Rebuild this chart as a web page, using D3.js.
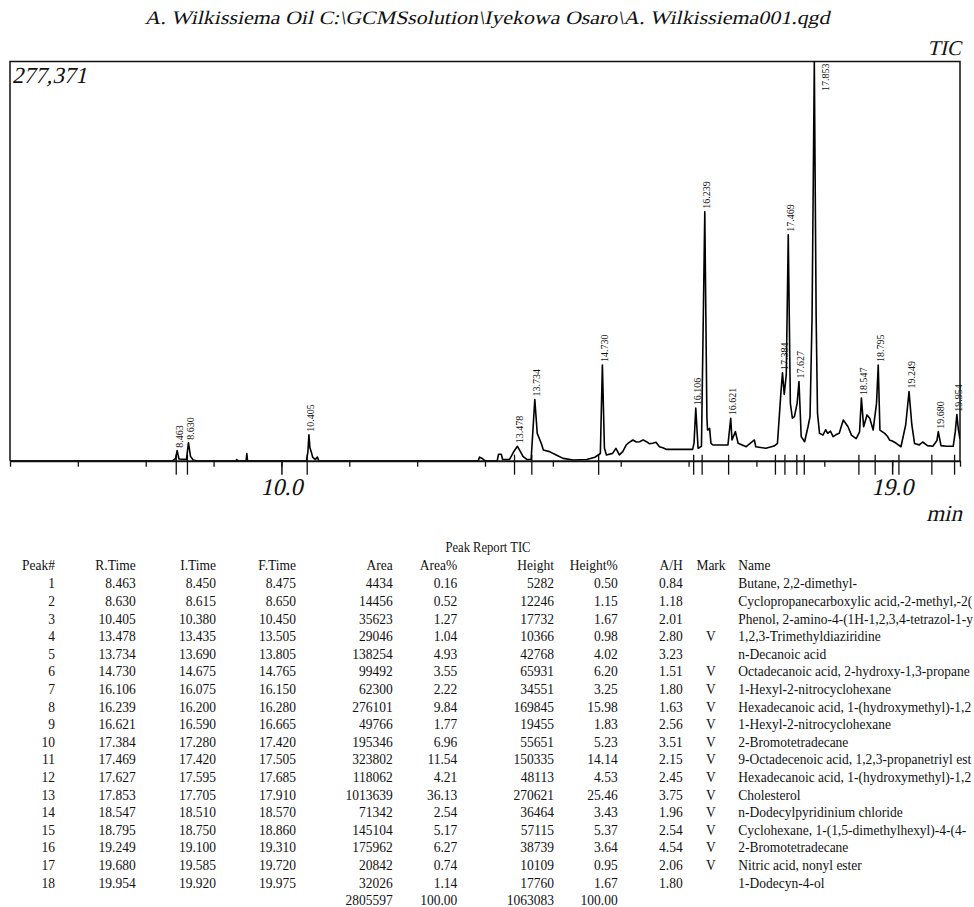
<!DOCTYPE html>
<html>
<head>
<meta charset="utf-8">
<script src="https://cdn.jsdelivr.net/npm/d3@7"></script>
<style>
  body { margin: 0; background: #fff; }
  svg { display: block; }
  text { font-family: "Liberation Serif", "Times New Roman", serif; fill: #111; }
</style>
</head>
<body>
<div id="chart"></div>
<script>
// peak report
const peakNo = [1, 2, 3, 4, 5, 6, 7, 8, 9, 10, 11, 12, 13, 14, 15, 16, 17, 18];
const retTime = [8.463, 8.630, 10.405, 13.478, 13.734, 14.730, 16.106, 16.239, 16.621, 17.384, 17.469, 17.627, 17.853, 18.547, 18.795, 19.249, 19.680, 19.954];
const startTime = [8.450, 8.615, 10.380, 13.435, 13.690, 14.675, 16.075, 16.200, 16.590, 17.280, 17.420, 17.595, 17.705, 18.510, 18.750, 19.100, 19.585, 19.920];
const endTime = [8.475, 8.650, 10.450, 13.505, 13.805, 14.765, 16.150, 16.280, 16.665, 17.420, 17.505, 17.685, 17.910, 18.570, 18.860, 19.310, 19.720, 19.975];
const area = [4434, 14456, 35623, 29046, 138254, 99492, 62300, 276101, 49766, 195346, 323802, 118062, 1013639, 71342, 145104, 175962, 20842, 32026];
const areaPct = [0.16, 0.52, 1.27, 1.04, 4.93, 3.55, 2.22, 9.84, 1.77, 6.96, 11.54, 4.21, 36.13, 2.54, 5.17, 6.27, 0.74, 1.14];
const height = [5282, 12246, 17732, 10366, 42768, 65931, 34551, 169845, 19455, 55651, 150335, 48113, 270621, 36464, 57115, 38739, 10109, 17760];
const heightPct = [0.50, 1.15, 1.67, 0.98, 4.02, 6.20, 3.25, 15.98, 1.83, 5.23, 14.14, 4.53, 25.46, 3.43, 5.37, 3.64, 0.95, 1.67];
const aOverH = [0.84, 1.18, 2.01, 2.80, 3.23, 1.51, 1.80, 1.63, 2.56, 3.51, 2.15, 2.45, 3.75, 1.96, 2.54, 4.54, 2.06, 1.80];
const mark = ["", "", "", "V", "", "V", "V", "V", "V", "V", "V", "V", "V", "V", "V", "V", "V", ""];
// names as far as the printout shows them (they run off the page)
const compound = [
  "Butane, 2,2-dimethyl-",
  "Cyclopropanecarboxylic acid,-2-methyl,-2(",
  "Phenol, 2-amino-4-(1H-1,2,3,4-tetrazol-1-y",
  "1,2,3-Trimethyldiaziridine",
  "n-Decanoic acid",
  "Octadecanoic acid, 2-hydroxy-1,3-propane",
  "1-Hexyl-2-nitrocyclohexane",
  "Hexadecanoic acid, 1-(hydroxymethyl)-1,2",
  "1-Hexyl-2-nitrocyclohexane",
  "2-Bromotetradecane",
  "9-Octadecenoic acid, 1,2,3-propanetriyl est",
  "Hexadecanoic acid, 1-(hydroxymethyl)-1,2",
  "Cholesterol",
  "n-Dodecylpyridinium chloride",
  "Cyclohexane, 1-(1,5-dimethylhexyl)-4-(4-",
  "2-Bromotetradecane",
  "Nitric acid, nonyl ester",
  "1-Dodecyn-4-ol"
];
const totalArea = "2805597", totalHeight = "1063083";

// TIC trace (min, counts)
const traceTime = [6.0, 8.40, 8.44, 8.463, 8.49, 8.60, 8.630, 8.66, 8.70, 8.75, 9.33, 9.34, 9.36, 9.48, 9.49, 9.50,
  10.37, 10.39, 10.405, 10.42, 10.44, 10.46, 10.50, 10.53, 10.55, 12.90, 12.92, 12.96, 13.00, 13.18, 13.20, 13.24, 13.26,
  13.36, 13.42, 13.478, 13.52, 13.56, 13.62, 13.68, 13.734, 13.77, 13.83, 13.86, 13.95, 14.05, 14.15, 14.30, 14.50, 14.62,
  14.70, 14.730, 14.76, 14.79, 14.88, 14.93, 14.98, 15.03, 15.08, 15.12, 15.18, 15.23, 15.28, 15.33, 15.38, 15.42, 15.47,
  15.52, 15.57, 15.62, 15.67, 16.06, 16.08,
  16.106, 16.14, 16.19, 16.239, 16.27, 16.28, 16.31, 16.33, 16.36, 16.58, 16.621, 16.64, 16.69, 16.73, 16.85, 16.97, 16.99,
  17.14, 17.26, 17.31, 17.36, 17.384, 17.41, 17.44, 17.469, 17.50, 17.53, 17.56, 17.60, 17.627, 17.66, 17.71, 17.76, 17.79,
  17.82, 17.853, 17.88, 17.90, 17.93, 17.98, 18.02, 18.05, 18.09, 18.13, 18.17, 18.22, 18.28, 18.35, 18.40, 18.47, 18.52, 18.547, 18.58, 18.63,
  18.67, 18.72, 18.77, 18.795, 18.82, 18.89, 18.93, 18.96, 19.01, 19.06, 19.13, 19.20, 19.249, 19.29, 19.33, 19.40, 19.45, 19.52, 19.60,
  19.66, 19.680, 19.72, 19.80, 19.90, 19.93, 19.954, 19.975, 20.0];
const traceCounts = [0, 0, 1500, 7000, 1200, 800, 12500, 3000, 500, 0, 0, 800, 0, 0, 5000, 0,
  0, 6000, 18000, 9000, 6000, 2500, 800, 2500, 0, 0, 2500, 1500, 0, 0, 4500, 4500, 800,
  800, 6000, 10000, 6500, 3000, 800, 1000, 42500, 19000, 12000, 7400, 6300, 4000, 1600, 500, 800, 2400,
  5000, 66500, 8600, 4000, 5100, 8600, 4000, 6300, 10900, 12500, 14400, 13000, 13200, 14500, 13200, 11800, 12100,
  12800, 9700, 9000, 7900, 7900, 12000,
  36500, 8600, 10000, 173000, 30000, 21300, 22500, 12100, 10900, 10900, 29500, 14400, 20200, 12100, 9700, 14400, 9700,
  8600, 10200, 12100, 46800, 61000, 46000, 60000, 157000, 39900, 29500, 30600, 40000, 55000, 16700, 13200, 23600, 30600,
  100000, 277000, 100000, 33000, 19000, 17800, 21500, 19000, 20500, 16700, 18000, 19000, 28300, 23600, 17800, 15400, 20000, 43500, 23600, 31800,
  29500, 21300, 40000, 66500, 21300, 19000, 17000, 14400, 13500, 12100, 9700, 25000, 48000, 25000, 12000, 11000, 13000, 10500, 10000,
  14000, 20200, 10500, 10000, 10000, 20000, 32000, 22000, 15000];

const maxCounts = 277371;
const xTicks = [6, 7, 8, 9, 10, 11, 12, 13, 14, 15, 16, 17, 18, 19, 20];
const xLabels = [10, 19];

const W = 974, H = 907;
const plot = { left: 10, right: 960, top: 61.5, bottom: 460.7 };
const slant = "skewX(-13)";

const svg = d3.select("#chart").append("svg")
  .attr("width", W)
  .attr("height", H);

svg.append("rect").attr("width", W).attr("height", H).attr("fill", "#fff");

const x = d3.scaleLinear().domain([6, 20]).range([plot.left, plot.right]);
const y = d3.scaleLinear().domain([0, maxCounts]).range([plot.bottom, plot.top]);

// slanted serif text (regular face leaned over, closer to the printout than the fallback italic)
function slanted(px, py, txt, size, anchor) {
  return svg.append("text")
    .attr("transform", `translate(${px},${py}) ${slant}`)
    .attr("text-anchor", anchor)
    .attr("font-size", size)
    .text(txt);
}

slanted(W / 2, 24, "A. Wilkissiema Oil C:\\GCMSsolution\\Iyekowa Osaro\\A. Wilkissiema001.qgd", 19, "middle")
  .attr("textLength", 685)
  .attr("lengthAdjust", "spacingAndGlyphs");
slanted(961, 55, "TIC", 21, "end");
slanted(12, 83, d3.format(",")(maxCounts), 23, "start");

// frame
svg.append("path")
  .attr("d", `M${plot.left},${plot.bottom}V${plot.top}H${plot.right}V${plot.bottom}`)
  .attr("fill", "none")
  .attr("stroke", "#111")
  .attr("stroke-width", 1.5);

svg.append("clipPath").attr("id", "clip")
  .append("rect")
  .attr("x", plot.left).attr("y", plot.top)
  .attr("width", plot.right - plot.left).attr("height", plot.bottom - plot.top);

// axis
const xAxis = svg.append("g")
  .attr("transform", `translate(0,${plot.bottom})`)
  .call(d3.axisBottom(x).tickValues(xTicks).tickSize(6).tickSizeOuter(0).tickFormat(""));
xAxis.select(".domain").attr("stroke", "#111").attr("stroke-width", 2);
xAxis.selectAll(".tick line").attr("stroke", "#111").attr("stroke-width", 1.3);

const xMajor = svg.append("g")
  .attr("transform", `translate(0,${plot.bottom})`)
  .call(d3.axisBottom(x).tickValues(xLabels).tickSize(14).tickFormat(""));
xMajor.select(".domain").remove();
xMajor.selectAll(".tick line").attr("stroke", "#111").attr("stroke-width", 1.5);

xLabels.forEach(v => slanted(x(v), 495, d3.format(".1f")(v), 24, "middle"));
slanted(962, 521, "min", 23, "end");

// peak start markers
svg.append("g").selectAll("line")
  .data(startTime)
  .join("line")
  .attr("x1", d => x(d)).attr("x2", d => x(d))
  .attr("y1", plot.bottom - 6).attr("y2", plot.bottom + 14)
  .attr("stroke", "#111")
  .attr("stroke-width", 1.3);

// trace
const trace = traceTime.map((t, i) => [t, traceCounts[i]]);
svg.append("path")
  .datum(trace)
  .attr("clip-path", "url(#clip)")
  .attr("fill", "none")
  .attr("stroke", "#000")
  .attr("stroke-width", 1.6)
  .attr("stroke-linejoin", "round")
  .attr("d", d3.line().x(d => x(d[0])).y(d => y(d[1])));

// peak labels
const apex = retTime.map(rt => d3.max(trace.filter(d => Math.abs(d[0] - rt) < 0.006), d => d[1]));
svg.append("g").selectAll("text")
  .data(retTime)
  .join("text")
  .attr("font-size", 10)
  .attr("fill", "#444")
  .attr("text-anchor", (d, i) => y(apex[i]) - 34 < plot.top ? "end" : "start")
  .attr("dy", "0.35em")
  .attr("transform", (d, i) => {
    const py = y(apex[i]);
    if (py - 34 < plot.top) return `translate(${x(d) + 11},${plot.top + 2}) rotate(-90)`;
    return `translate(${x(d) + 2},${py - 3}) rotate(-90)`;
  })
  .text(d => d3.format(".3f")(d));

// table
const sx = 0.9;
const tbl = svg.append("g").attr("transform", `scale(${sx},1)`).attr("font-size", 15);
const rowY0 = 588.5, rowStep = 17.6;

svg.append("text")
  .attr("x", 488).attr("y", 552)
  .attr("text-anchor", "middle")
  .attr("font-size", 14)
  .attr("transform", "translate(488,0) scale(0.9,1) translate(-488,0)")
  .text("Peak Report TIC");

const cols = [
  { head: "Peak#", at: 55, vals: peakNo.map(String), anchor: "end" },
  { head: "R.Time", at: 135.7, vals: retTime.map(d3.format(".3f")), anchor: "end" },
  { head: "I.Time", at: 216, vals: startTime.map(d3.format(".3f")), anchor: "end" },
  { head: "F.Time", at: 296, vals: endTime.map(d3.format(".3f")), anchor: "end" },
  { head: "Area", at: 392.7, vals: area.map(String), anchor: "end", total: totalArea },
  { head: "Area%", at: 457.3, vals: areaPct.map(d3.format(".2f")), anchor: "end", total: "100.00" },
  { head: "Height", at: 554, vals: height.map(String), anchor: "end", total: totalHeight },
  { head: "Height%", at: 617.7, vals: heightPct.map(d3.format(".2f")), anchor: "end", total: "100.00" },
  { head: "A/H", at: 682.7, vals: aOverH.map(d3.format(".2f")), anchor: "end" },
  { head: "Mark", at: 711, vals: mark, anchor: "middle" },
  { head: "Name", at: 738.3, vals: compound, anchor: "start" }
];

cols.forEach(c => {
  tbl.append("text")
    .attr("x", c.at / sx).attr("y", rowY0 - 18.8)
    .attr("text-anchor", c.anchor)
    .text(c.head);
  tbl.append("g").selectAll("text")
    .data(c.vals)
    .join("text")
    .attr("x", c.at / sx)
    .attr("y", (d, i) => rowY0 + i * rowStep)
    .attr("text-anchor", c.anchor)
    .text(d => d);
  if (c.total) {
    tbl.append("text")
      .attr("x", c.at / sx).attr("y", rowY0 + c.vals.length * rowStep)
      .attr("text-anchor", c.anchor)
      .text(c.total);
  }
});
</script>
</body>
</html>
